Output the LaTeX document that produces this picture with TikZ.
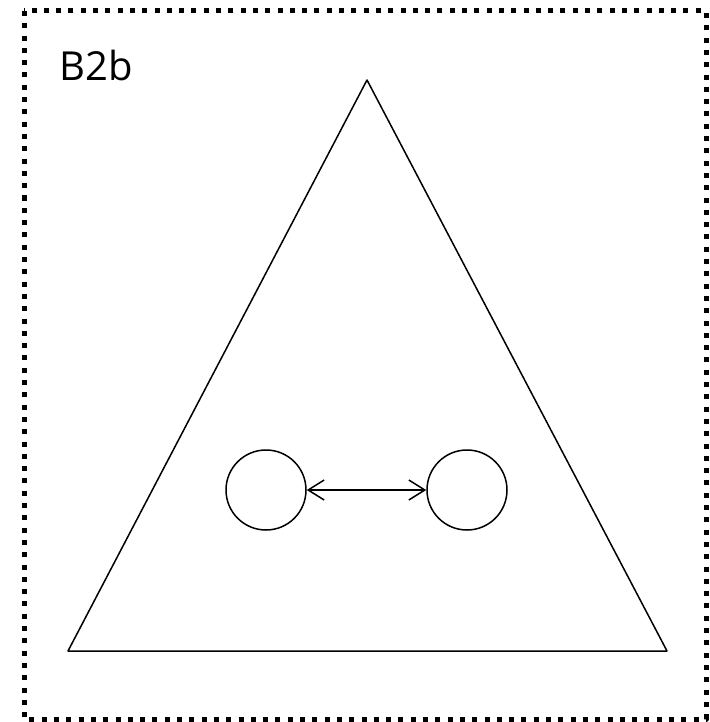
\documentclass[tikz,border=0pt]{standalone}
\usepackage{fontspec}
\setmainfont{Open Sans}
\usetikzlibrary{arrows.meta}
\begin{document}
\begin{tikzpicture}[x=1pt, y=-1pt, line join=round, line cap=round, >={Straight Barb[length=16pt,width=20pt]},
  ball/.style={draw, circle, minimum size=80pt, inner sep=0pt, line width=1.5pt}];
\useasboundingbox (0,0) rectangle (709,722);
\draw[line width=5pt, line cap=butt, dash pattern=on 5pt off 7.3pt] (24,11) rectangle (706,719);
\node[anchor=base west, font=\fontsize{40}{44}\selectfont, inner sep=0pt] (lbl) at (59,81) {B2b};
\draw[line width=1.5pt] (367,80) -- (667,651) -- (68,651) -- cycle;
\node[ball] (left) at (266,490) {};
\node[ball] (right) at (467,490) {};
\draw[<->, line width=1.5pt] (left) -- (right);
\end{tikzpicture}
\end{document}
